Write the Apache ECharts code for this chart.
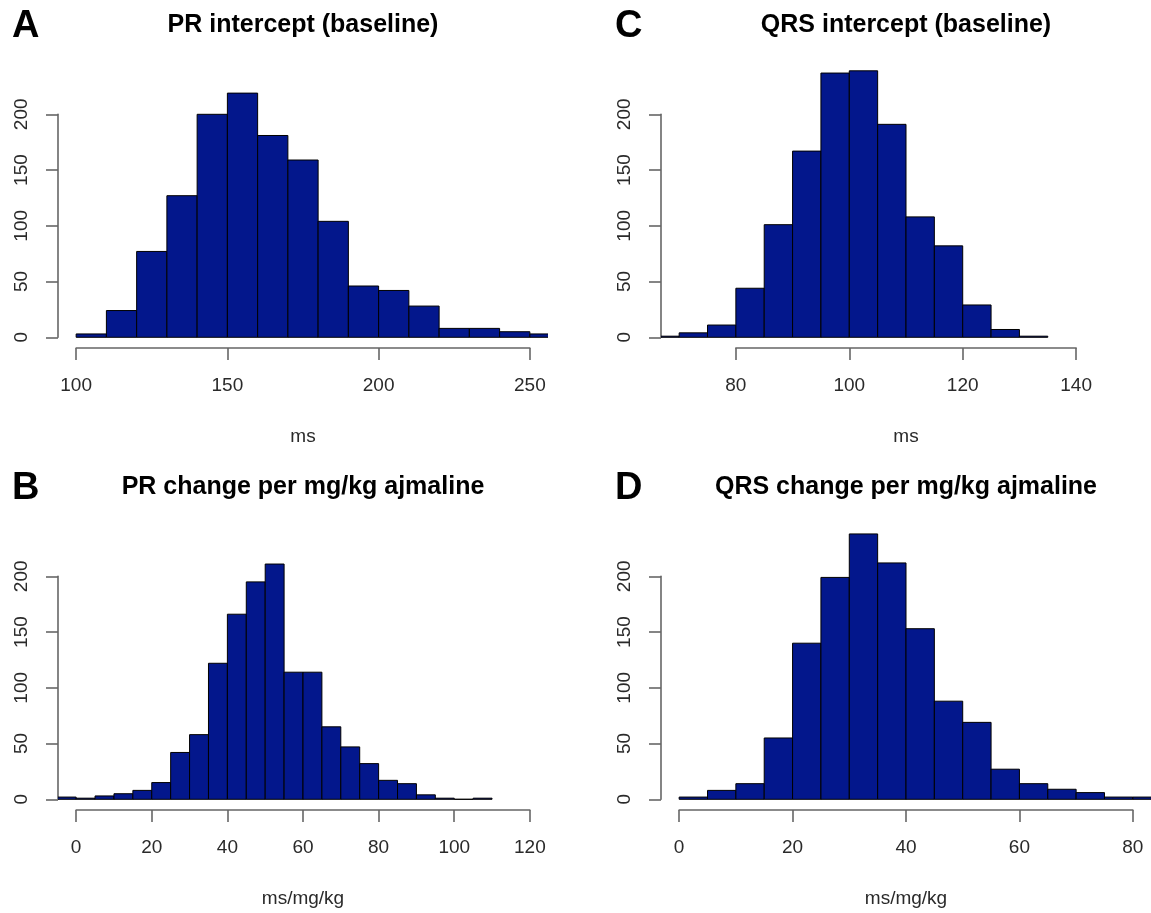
<!DOCTYPE html>
<head>
    <meta charset="UTF-8">
    <title>histograms</title>
    <script src="https://cdn.jsdelivr.net/npm/echarts@6/dist/echarts.min.js"></script>
    <style>
        body { margin: 0; background: #fff; }
        #main { width: 1151px; height: 913px; }
    </style>
</head>
<body>
<div id="main"></div>
<script type="text/javascript">
    // bin counts
    var prInterceptStart = 100, prInterceptWidth = 10;
    var prInterceptCounts = [3, 24, 77, 127, 200, 219, 181, 159, 104, 46, 42, 28, 8, 8, 5, 3];

    var prChangeStart = -5, prChangeWidth = 5;
    var prChangeCounts = [2, 1, 3, 5, 8, 15, 42, 58, 122, 166, 195, 211, 114, 114, 65, 47, 32, 17, 14, 4, 1, 0, 1];

    var qrsInterceptStart = 65, qrsInterceptWidth = 5;
    var qrsInterceptCounts = [1, 4, 11, 44, 101, 167, 237, 239, 191, 108, 82, 29, 7, 1];

    var qrsChangeStart = 0, qrsChangeWidth = 5;
    var qrsChangeCounts = [2, 8, 14, 55, 140, 199, 238, 212, 153, 88, 69, 27, 14, 9, 6, 2, 2];

    var panelLetters = ['A', 'B', 'C', 'D'];
    var panelTitles = ['PR intercept (baseline)', 'PR change per mg/kg ajmaline',
                       'QRS intercept (baseline)', 'QRS change per mg/kg ajmaline'];
    var axisNames = ['ms', 'ms/mg/kg', 'ms', 'ms/mg/kg'];
    // x tick range [first, last, step] and y ticks
    var xTicks = [[100, 250, 50], [0, 120, 20], [80, 140, 20], [0, 80, 20]];
    var xLims = [[100, 250], [0, 120], [70, 150], [0, 80]];
    var yTicks = [0, 200, 50];
    var yLim = [0, 240];

    var barColor = '#03178c';
    var axisColor = '#666';
    var font = 'Liberation Sans, Arial, sans-serif';

    // plot regions in px (left, top), same size for all four
    var plotW = 490, plotH = 289;
    var plotPos = [[58, 59], [58, 521], [661, 59], [661, 521]];

    function histData(start, width, counts) {
        var out = [];
        for (var i = 0; i < counts.length; i++) {
            out.push([start + i * width, start + (i + 1) * width, counts[i]]);
        }
        return out;
    }
    var allData = [
        histData(prInterceptStart, prInterceptWidth, prInterceptCounts),
        histData(prChangeStart, prChangeWidth, prChangeCounts),
        histData(qrsInterceptStart, qrsInterceptWidth, qrsInterceptCounts),
        histData(qrsChangeStart, qrsChangeWidth, qrsChangeCounts)
    ];

    // R style: extend limits by 4%
    function ext(lim) {
        var d = (lim[1] - lim[0]) * 0.04;
        return [lim[0] - d, lim[1] + d];
    }

    function renderBar(params, api) {
        var p0 = api.coord([api.value(0), api.value(2)]);
        var p1 = api.coord([api.value(1), 0]);
        return {
            type: 'rect',
            shape: { x: p0[0], y: p0[1], width: p1[0] - p0[0], height: p1[1] - p0[1] },
            style: { fill: barColor, stroke: '#000', lineWidth: 1 }
        };
    }

    var grids = [], xAxes = [], yAxes = [], series = [], titles = [];
    var ux, uy = ext(yLim);
    for (var i = 0; i < 4; i++) {
        ux = ext(xLims[i]);
        var L = plotPos[i][0], T = plotPos[i][1];
        var kx = plotW / (ux[1] - ux[0]);
        var ky = plotH / (uy[1] - uy[0]);
        var g = grids.length;

        // plot region with the bars
        grids.push({ left: L, top: T, width: plotW, height: plotH });
        xAxes.push({ gridIndex: g, type: 'value', min: ux[0], max: ux[1], show: false });
        yAxes.push({ gridIndex: g, type: 'value', min: uy[0], max: uy[1], show: false });
        series.push({
            type: 'custom', xAxisIndex: g, yAxisIndex: g, clip: true,
            renderItem: renderBar, data: allData[i], silent: true
        });

        // x axis, only from first to last tick
        var xt = xTicks[i];
        grids.push({ left: L + (xt[0] - ux[0]) * kx, top: T, width: (xt[1] - xt[0]) * kx, height: plotH });
        xAxes.push({
            gridIndex: g + 1, type: 'value', min: xt[0], max: xt[1], interval: xt[2],
            position: 'bottom',
            axisLine: { show: true, lineStyle: { color: axisColor, width: 1.6 } },
            axisTick: { show: true, length: 12, lineStyle: { color: axisColor, width: 1.6 } },
            axisLabel: { fontSize: 19, color: '#2a2a2a', fontFamily: font, margin: 28 },
            splitLine: { show: false },
            name: axisNames[i], nameLocation: 'middle', nameGap: 79,
            nameTextStyle: { fontSize: 19, color: '#2a2a2a', fontFamily: font }
        });
        yAxes.push({ gridIndex: g + 1, type: 'value', show: false });

        // y axis, only from 0 to 200
        grids.push({ left: L, top: T + (uy[1] - yTicks[1]) * ky, width: plotW, height: (yTicks[1] - yTicks[0]) * ky });
        xAxes.push({ gridIndex: g + 2, type: 'value', show: false });
        yAxes.push({
            gridIndex: g + 2, type: 'value', min: yTicks[0], max: yTicks[1], interval: yTicks[2],
            position: 'left',
            axisLine: { show: true, lineStyle: { color: axisColor, width: 1.6 } },
            axisTick: { show: true, length: 12, lineStyle: { color: axisColor, width: 1.6 } },
            axisLabel: { fontSize: 19, color: '#2a2a2a', fontFamily: font, rotate: 90, margin: 27 },
            splitLine: { show: false }
        });

        titles.push({
            text: panelTitles[i], left: L + plotW / 2, top: T - 46, textAlign: 'center', padding: 0,
            textStyle: { fontSize: 25, fontWeight: 'bold', color: '#000', fontFamily: font }
        });
        titles.push({
            text: panelLetters[i], left: L - 46, top: T - 51, padding: 0,
            textStyle: { fontSize: 38, fontWeight: 'bold', color: '#000', fontFamily: font }
        });
    }

    var myChart = echarts.init(document.getElementById('main'));
    myChart.setOption({
        animation: false,
        title: titles,
        grid: grids,
        xAxis: xAxes,
        yAxis: yAxes,
        series: series
    });
</script>
</body>
</html>
